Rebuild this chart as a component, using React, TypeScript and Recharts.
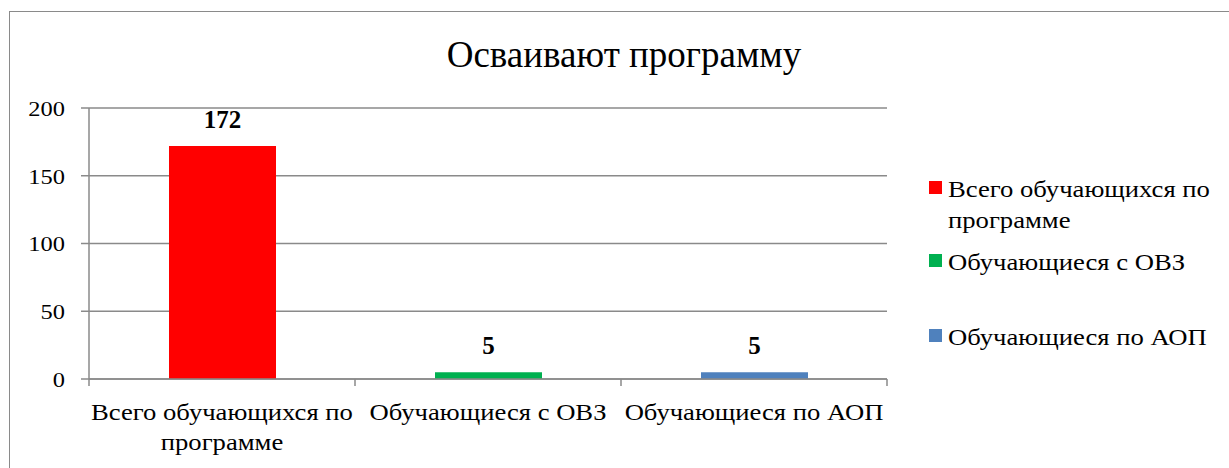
import React from 'react';
import { BarChart, Bar, XAxis, YAxis, CartesianGrid, Cell, LabelList, Legend } from 'recharts';

const categories = ['Всего обучающихся по программе', 'Обучающиеся с ОВЗ', 'Обучающиеся по АОП'];
const values = [172, 5, 5];
const colors = ['#FF0000', '#00B050', '#4F81BD'];
const yTicks = [0, 50, 100, 150, 200];
const title = 'Осваивают программу';

const data = categories.map((name, i) => ({ name, value: values[i] }));

const FONT = '"Liberation Serif", "Times New Roman", serif';
const GRID = '#8A8A8A';
const SX = 1.11;
const CHART_W = 1229;
const MARGIN = { top: 108, right: 342, bottom: 0, left: 0 };
const Y_W = 89;
const BAND = (CHART_W - MARGIN.left - MARGIN.right - Y_W) / categories.length;

let ctx: CanvasRenderingContext2D | null = null;
const measure = (s: string, size: number) => {
  if (!ctx) ctx = document.createElement('canvas').getContext('2d');
  if (!ctx) return s.length * size * 0.5;
  ctx.font = `${size}px ${FONT}`;
  return ctx.measureText(s).width;
};

const wrap = (s: string, size: number, maxW: number) => {
  const words = s.split(' ');
  const lines: string[] = [];
  let cur = '';
  for (const w of words) {
    const t = cur ? cur + ' ' + w : w;
    if (cur && measure(t, size) > maxW) {
      lines.push(cur);
      cur = w;
    } else cur = t;
  }
  if (cur) lines.push(cur);
  return lines;
};

const XTick = (props: any) => {
  const { x, y, payload, index } = props;
  const half = BAND / 2;
  const lines = wrap(String(payload.value), 24, (BAND + 12) / SX);
  return (
    <g>
      <line x1={x - half} y1={y} x2={x - half} y2={y + 7} stroke={GRID} strokeWidth={1.5} />
      {index === categories.length - 1 && (
        <line x1={x + half} y1={y} x2={x + half} y2={y + 7} stroke={GRID} strokeWidth={1.5} />
      )}
      <g transform={`translate(${x},${y + 41}) scale(${SX},1)`}>
        <text x={0} y={0} textAnchor="middle" fontSize={24} fontFamily={FONT} fill="#000">
          {lines.map((l, i) => (
            <tspan key={i} x={0} dy={i === 0 ? 0 : 30}>
              {l}
            </tspan>
          ))}
        </text>
      </g>
    </g>
  );
};

const YTick = (props: any) => {
  const { x, y, payload } = props;
  return (
    <g transform={`translate(${x},${y}) scale(${SX},1)`}>
      <text x={0} y={0} dy="0.355em" textAnchor="end" fontSize={22} fontFamily={FONT} fill="#000">
        {payload.value}
      </text>
    </g>
  );
};

const legendMargins = [0, 11, 44];

const LegendContent = () => (
  <div style={{ fontFamily: FONT, fontSize: 24, color: '#000' }}>
    {categories.map((c, i) => (
      <div key={c} style={{ display: 'flex', alignItems: 'flex-start', marginTop: legendMargins[i] }}>
        <div style={{ width: 13, height: 13, background: colors[i], marginTop: 7, marginRight: 6, flexShrink: 0 }} />
        <div
          style={{
            width: 243,
            lineHeight: '31px',
            transform: `scaleX(${SX})`,
            transformOrigin: 'left top',
            whiteSpace: 'normal',
          }}
        >
          {c}
        </div>
      </div>
    ))}
  </div>
);

export default function App() {
  return (
    <div style={{ position: 'absolute', left: 0, top: 0, width: 1229, height: 468, overflow: 'hidden', background: '#fff' }}>
      <div
        style={{
          position: 'absolute',
          left: 9,
          top: 11,
          width: 1260,
          height: 500,
          border: `1.5px solid ${GRID}`,
          boxSizing: 'border-box',
        }}
      />
      <div
        style={{
          position: 'absolute',
          left: 9,
          top: 36,
          width: 1230,
          textAlign: 'center',
          fontFamily: FONT,
          fontSize: 37,
          lineHeight: '37px',
          color: '#000',
        }}
      >
        {title}
      </div>
      <div style={{ position: 'absolute', left: 0, top: 0 }}>
        <BarChart width={CHART_W} height={468} data={data} margin={MARGIN}>
          <CartesianGrid vertical={false} stroke={GRID} strokeWidth={1.5} />
          <XAxis
            dataKey="name"
            height={89}
            axisLine={{ stroke: GRID, strokeWidth: 1.5 }}
            tickLine={false}
            tickSize={0}
            tickMargin={0}
            interval={0}
            tick={<XTick />}
          />
          <YAxis
            width={Y_W}
            domain={[0, 200]}
            ticks={yTicks}
            interval={0}
            axisLine={{ stroke: GRID, strokeWidth: 1.5 }}
            tickLine={{ stroke: GRID, strokeWidth: 1.5 }}
            tickSize={8}
            tickMargin={16}
            tick={<YTick />}
          />
          <Legend
            layout="horizontal"
            verticalAlign="middle"
            align="center"
            content={<LegendContent />}
            wrapperStyle={{ left: 929, top: 174, width: 300, height: 'auto' }}
          />
          <Bar dataKey="value" barSize={107} isAnimationActive={false}>
            {data.map((d, i) => (
              <Cell key={d.name} fill={colors[i]} />
            ))}
            <LabelList
              dataKey="value"
              position="top"
              offset={18}
              style={{ fontSize: 25, fontFamily: FONT, fontWeight: 'bold', fill: '#000' }}
            />
          </Bar>
        </BarChart>
      </div>
    </div>
  );
}
